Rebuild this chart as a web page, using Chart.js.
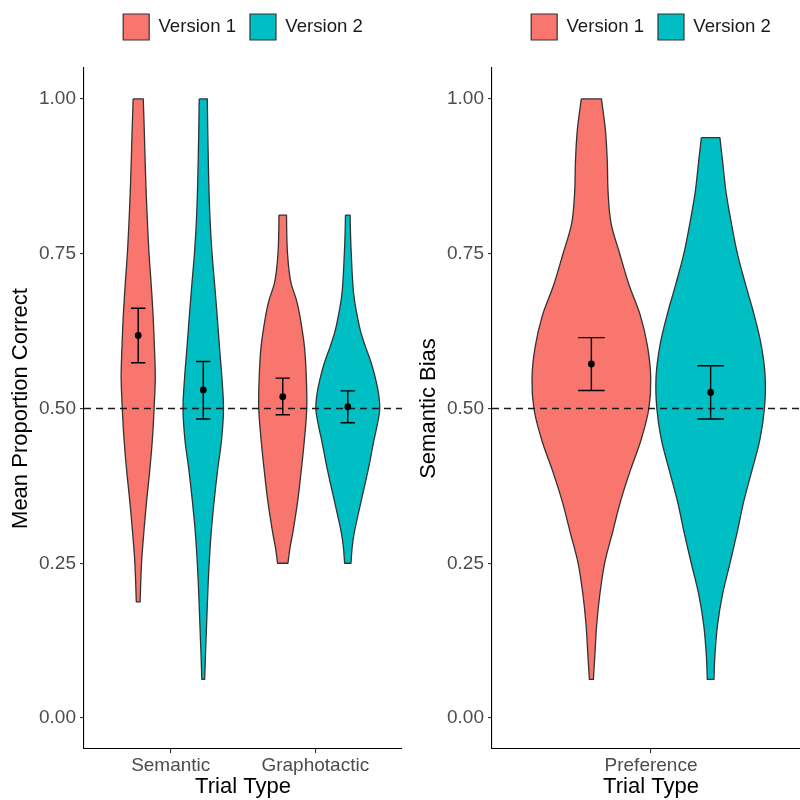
<!DOCTYPE html>
<html>
<head>
<meta charset="utf-8">
<script src="https://cdn.jsdelivr.net/npm/chart.js@4.4.0/dist/chart.umd.min.js"></script>
<style>
  html, body { margin: 0; padding: 0; background: #fff; overflow: hidden; width: 800px; height: 800px; }
  .panel { position: absolute; top: 0; width: 486px; height: 800px; }
  #left { left: 0; }
  #right { left: 408px; }
</style>
</head>
<body>
<div class="panel" id="left"><canvas id="accuracy" width="486" height="800"></canvas></div>
<div class="panel" id="right"><canvas id="bias" width="486" height="800"></canvas></div>
<script>
// ---- data ----
const versions = ['Version 1', 'Version 2'];
const versionColors = ['#F8766D', '#00BFC4'];
const accuracyTypes = ['Semantic', 'Graphotactic'];
const biasTypes = ['Preference'];
const yTicks = [0, 0.25, 0.5, 0.75, 1];
const chanceLevel = 0.5;

// violin outlines: [score, half-width of the density in category units], top to bottom
const semanticV1 = [[1.00,0.035],[0.95,0.042],[0.90,0.048],[0.85,0.055],[0.80,0.064],[0.75,0.075],[0.70,0.090],[0.65,0.103],[0.60,0.112],[0.55,0.118],[0.50,0.110],[0.45,0.098],[0.40,0.080],[0.35,0.058],[0.30,0.039],[0.25,0.023],[0.1875,0.013]];
const semanticV2 = [[1.00,0.028],[0.95,0.031],[0.90,0.035],[0.85,0.040],[0.80,0.048],[0.75,0.061],[0.70,0.079],[0.65,0.096],[0.60,0.112],[0.55,0.129],[0.50,0.140],[0.45,0.127],[0.40,0.099],[0.35,0.075],[0.30,0.055],[0.25,0.041],[0.20,0.031],[0.15,0.023],[0.10,0.015],[0.0625,0.010]];
const graphotacticV1 = [[0.8125,0.026],[0.78,0.028],[0.75,0.033],[0.72,0.045],[0.70,0.060],[0.675,0.095],[0.65,0.118],[0.60,0.150],[0.55,0.163],[0.50,0.166],[0.45,0.150],[0.40,0.128],[0.35,0.103],[0.30,0.070],[0.275,0.050],[0.25,0.036]];
const graphotacticV2 = [[0.8125,0.016],[0.78,0.019],[0.75,0.024],[0.70,0.035],[0.675,0.046],[0.65,0.065],[0.625,0.088],[0.60,0.122],[0.575,0.160],[0.55,0.190],[0.525,0.212],[0.50,0.221],[0.475,0.205],[0.45,0.182],[0.40,0.140],[0.35,0.092],[0.30,0.045],[0.275,0.030],[0.25,0.022]];
const preferenceV1 = [[1.00,0.038],[0.95,0.053],[0.90,0.060],[0.85,0.063],[0.80,0.074],[0.75,0.107],[0.70,0.142],[0.65,0.185],[0.60,0.212],[0.55,0.224],[0.50,0.217],[0.45,0.188],[0.40,0.147],[0.35,0.110],[0.30,0.080],[0.25,0.050],[0.20,0.032],[0.15,0.020],[0.10,0.013],[0.0625,0.0075]];
const preferenceV2 = [[0.9375,0.035],[0.90,0.045],[0.85,0.058],[0.80,0.078],[0.75,0.101],[0.70,0.132],[0.65,0.165],[0.60,0.192],[0.55,0.206],[0.50,0.203],[0.45,0.186],[0.40,0.156],[0.35,0.125],[0.30,0.100],[0.25,0.073],[0.20,0.045],[0.15,0.026],[0.10,0.016],[0.0625,0.0125]];

// means with confidence limits, one entry per trial type
const accuracyMeanV1  = [0.618, 0.519];
const accuracyLowerV1 = [0.574, 0.490];
const accuracyUpperV1 = [0.662, 0.549];
const accuracyMeanV2  = [0.530, 0.503];
const accuracyLowerV2 = [0.483, 0.477];
const accuracyUpperV2 = [0.576, 0.5285];
const biasMeanV1  = [0.572];
const biasLowerV1 = [0.529];
const biasUpperV1 = [0.6145];
const biasMeanV2  = [0.526];
const biasLowerV2 = [0.483];
const biasUpperV2 = [0.569];

// ---- drawing ----
Chart.defaults.font.family = "'Liberation Sans', Arial, Helvetica, sans-serif";
const DODGE = 0.225;     // offset of each version from the category centre
const CAP = 0.05;        // half-width of error-bar caps
const OUTLINE = '#333333';

// closed outline: down the left side, up the right side; the flat ends are
// doubled so the spline keeps square corners there
function outline(shape, center) {
  const n = shape.length;
  const pts = [];
  const add = (x, y, corner) => { pts.push({ x, y }); if (corner) pts.push({ x, y }); };
  shape.forEach(([y, w], i) => add(center - w, y, i === 0 || i === n - 1));
  for (let i = n - 1; i >= 0; i--) add(center + shape[i][1], shape[i][0], i === 0 || i === n - 1);
  pts.push({ x: pts[0].x, y: pts[0].y });
  return pts;
}

function errorBars(centers, lows, highs) {
  const pts = [];
  centers.forEach((c, i) => {
    const lo = lows[i], hi = highs[i];
    pts.push({ x: c - CAP, y: hi }, { x: c + CAP, y: hi }, { x: c, y: null },
             { x: c, y: hi }, { x: c, y: lo }, { x: c, y: null },
             { x: c - CAP, y: lo }, { x: c + CAP, y: lo }, { x: c, y: null });
  });
  return pts;
}

function buildPanel(canvasId, categories, shapes, means, lows, highs, yTitle) {
  const xMin = 0.4, xMax = categories.length + 0.6;
  const datasets = [];
  const centers = [[], []];
  categories.forEach((cat, i) => {
    [0, 1].forEach(v => {
      const c = i + 1 + (v === 0 ? -DODGE : DODGE);
      centers[v].push(c);
      datasets.push({
        label: versions[v] + ' ' + cat,
        data: outline(shapes[v][i], c),
        showLine: true, fill: 'shape', tension: 0.35,
        backgroundColor: versionColors[v], borderColor: OUTLINE, borderWidth: 1.3,
        borderJoinStyle: 'round', pointRadius: 0, order: 3
      });
    });
  });
  datasets.push({
    label: 'chance',
    data: [{ x: xMin, y: chanceLevel }, { x: xMax, y: chanceLevel }],
    showLine: true, borderColor: '#1a1a1a', borderWidth: 1.3, borderDash: [7, 5],
    pointRadius: 0, fill: false, order: 2
  });
  [0, 1].forEach(v => {
    datasets.push({
      label: 'ci ' + versions[v],
      data: errorBars(centers[v], lows[v], highs[v]),
      showLine: true, spanGaps: false, borderColor: '#000', borderWidth: 1.4,
      pointRadius: 0, fill: false, order: 1
    });
    datasets.push({
      label: 'mean ' + versions[v],
      data: centers[v].map((c, i) => ({ x: c, y: means[v][i] })),
      showLine: false, pointRadius: 3.4, pointBackgroundColor: '#000',
      pointBorderWidth: 0, order: 0
    });
  });

  new Chart(document.getElementById(canvasId), {
    type: 'scatter',
    data: { datasets },
    options: {
      responsive: false, animation: false, events: [],
      layout: { padding: 0 },
      plugins: {
        tooltip: { enabled: false },
        legend: {
          position: 'top', align: 'center',
          labels: {
            boxWidth: 26, boxHeight: 26, padding: 14, color: '#1a1a1a',
            font: { size: 18.6 },
            generateLabels: () => versions.map((v, i) => ({
              text: v, fillStyle: versionColors[i], strokeStyle: OUTLINE,
              lineWidth: 1.2, hidden: false, datasetIndex: i, fontColor: '#1a1a1a'
            }))
          }
        }
      },
      scales: {
        x: {
          type: 'linear', position: 'bottom', min: xMin, max: xMax,
          afterBuildTicks: s => { s.ticks = categories.map((c, i) => ({ value: i + 1 })); },
          ticks: {
            callback: v => categories[Math.round(v) - 1] || '',
            color: '#4D4D4D', font: { size: 19 }, padding: 1, autoSkip: false, maxRotation: 0
          },
          grid: { drawOnChartArea: false, drawTicks: true, tickLength: 4, color: OUTLINE, lineWidth: 1.1 },
          border: { display: true, color: '#000', width: 1.1 },
          title: { display: true, text: 'Trial Type', color: '#000', font: { size: 22 }, padding: { top: 0, bottom: 0 } },
          afterFit: s => { s.height = 51; }
        },
        y: {
          type: 'linear', position: 'left', min: -0.05, max: 1.05,
          afterBuildTicks: s => { s.ticks = yTicks.map(v => ({ value: v })); },
          ticks: { callback: v => v.toFixed(2), color: '#4D4D4D', font: { size: 19 }, padding: 4 },
          grid: { drawOnChartArea: false, drawTicks: true, tickLength: 4, color: OUTLINE, lineWidth: 1.1 },
          border: { display: true, color: '#000', width: 1.1 },
          title: { display: true, text: yTitle, color: '#000', font: { size: 22 }, padding: { top: 8, bottom: 0 } },
          afterFit: s => { s.width = 84; }
        },
        yRight: {
          axis: 'y', type: 'linear', position: 'right', min: 0, max: 1,
          ticks: { display: false }, grid: { display: false }, border: { display: false },
          afterFit: s => { s.width = 84; }
        },
        xTop: {
          axis: 'x', type: 'linear', position: 'top', min: 0, max: 1,
          ticks: { display: false }, grid: { display: false }, border: { display: false },
          afterFit: s => { s.height = 18; }
        }
      }
    }
  });
}

buildPanel('accuracy', accuracyTypes,
  [[semanticV1, graphotacticV1], [semanticV2, graphotacticV2]],
  [accuracyMeanV1, accuracyMeanV2],
  [accuracyLowerV1, accuracyLowerV2],
  [accuracyUpperV1, accuracyUpperV2],
  'Mean Proportion Correct');

buildPanel('bias', biasTypes,
  [[preferenceV1], [preferenceV2]],
  [biasMeanV1, biasMeanV2],
  [biasLowerV1, biasLowerV2],
  [biasUpperV1, biasUpperV2],
  'Semantic Bias');
</script>
</body>
</html>
